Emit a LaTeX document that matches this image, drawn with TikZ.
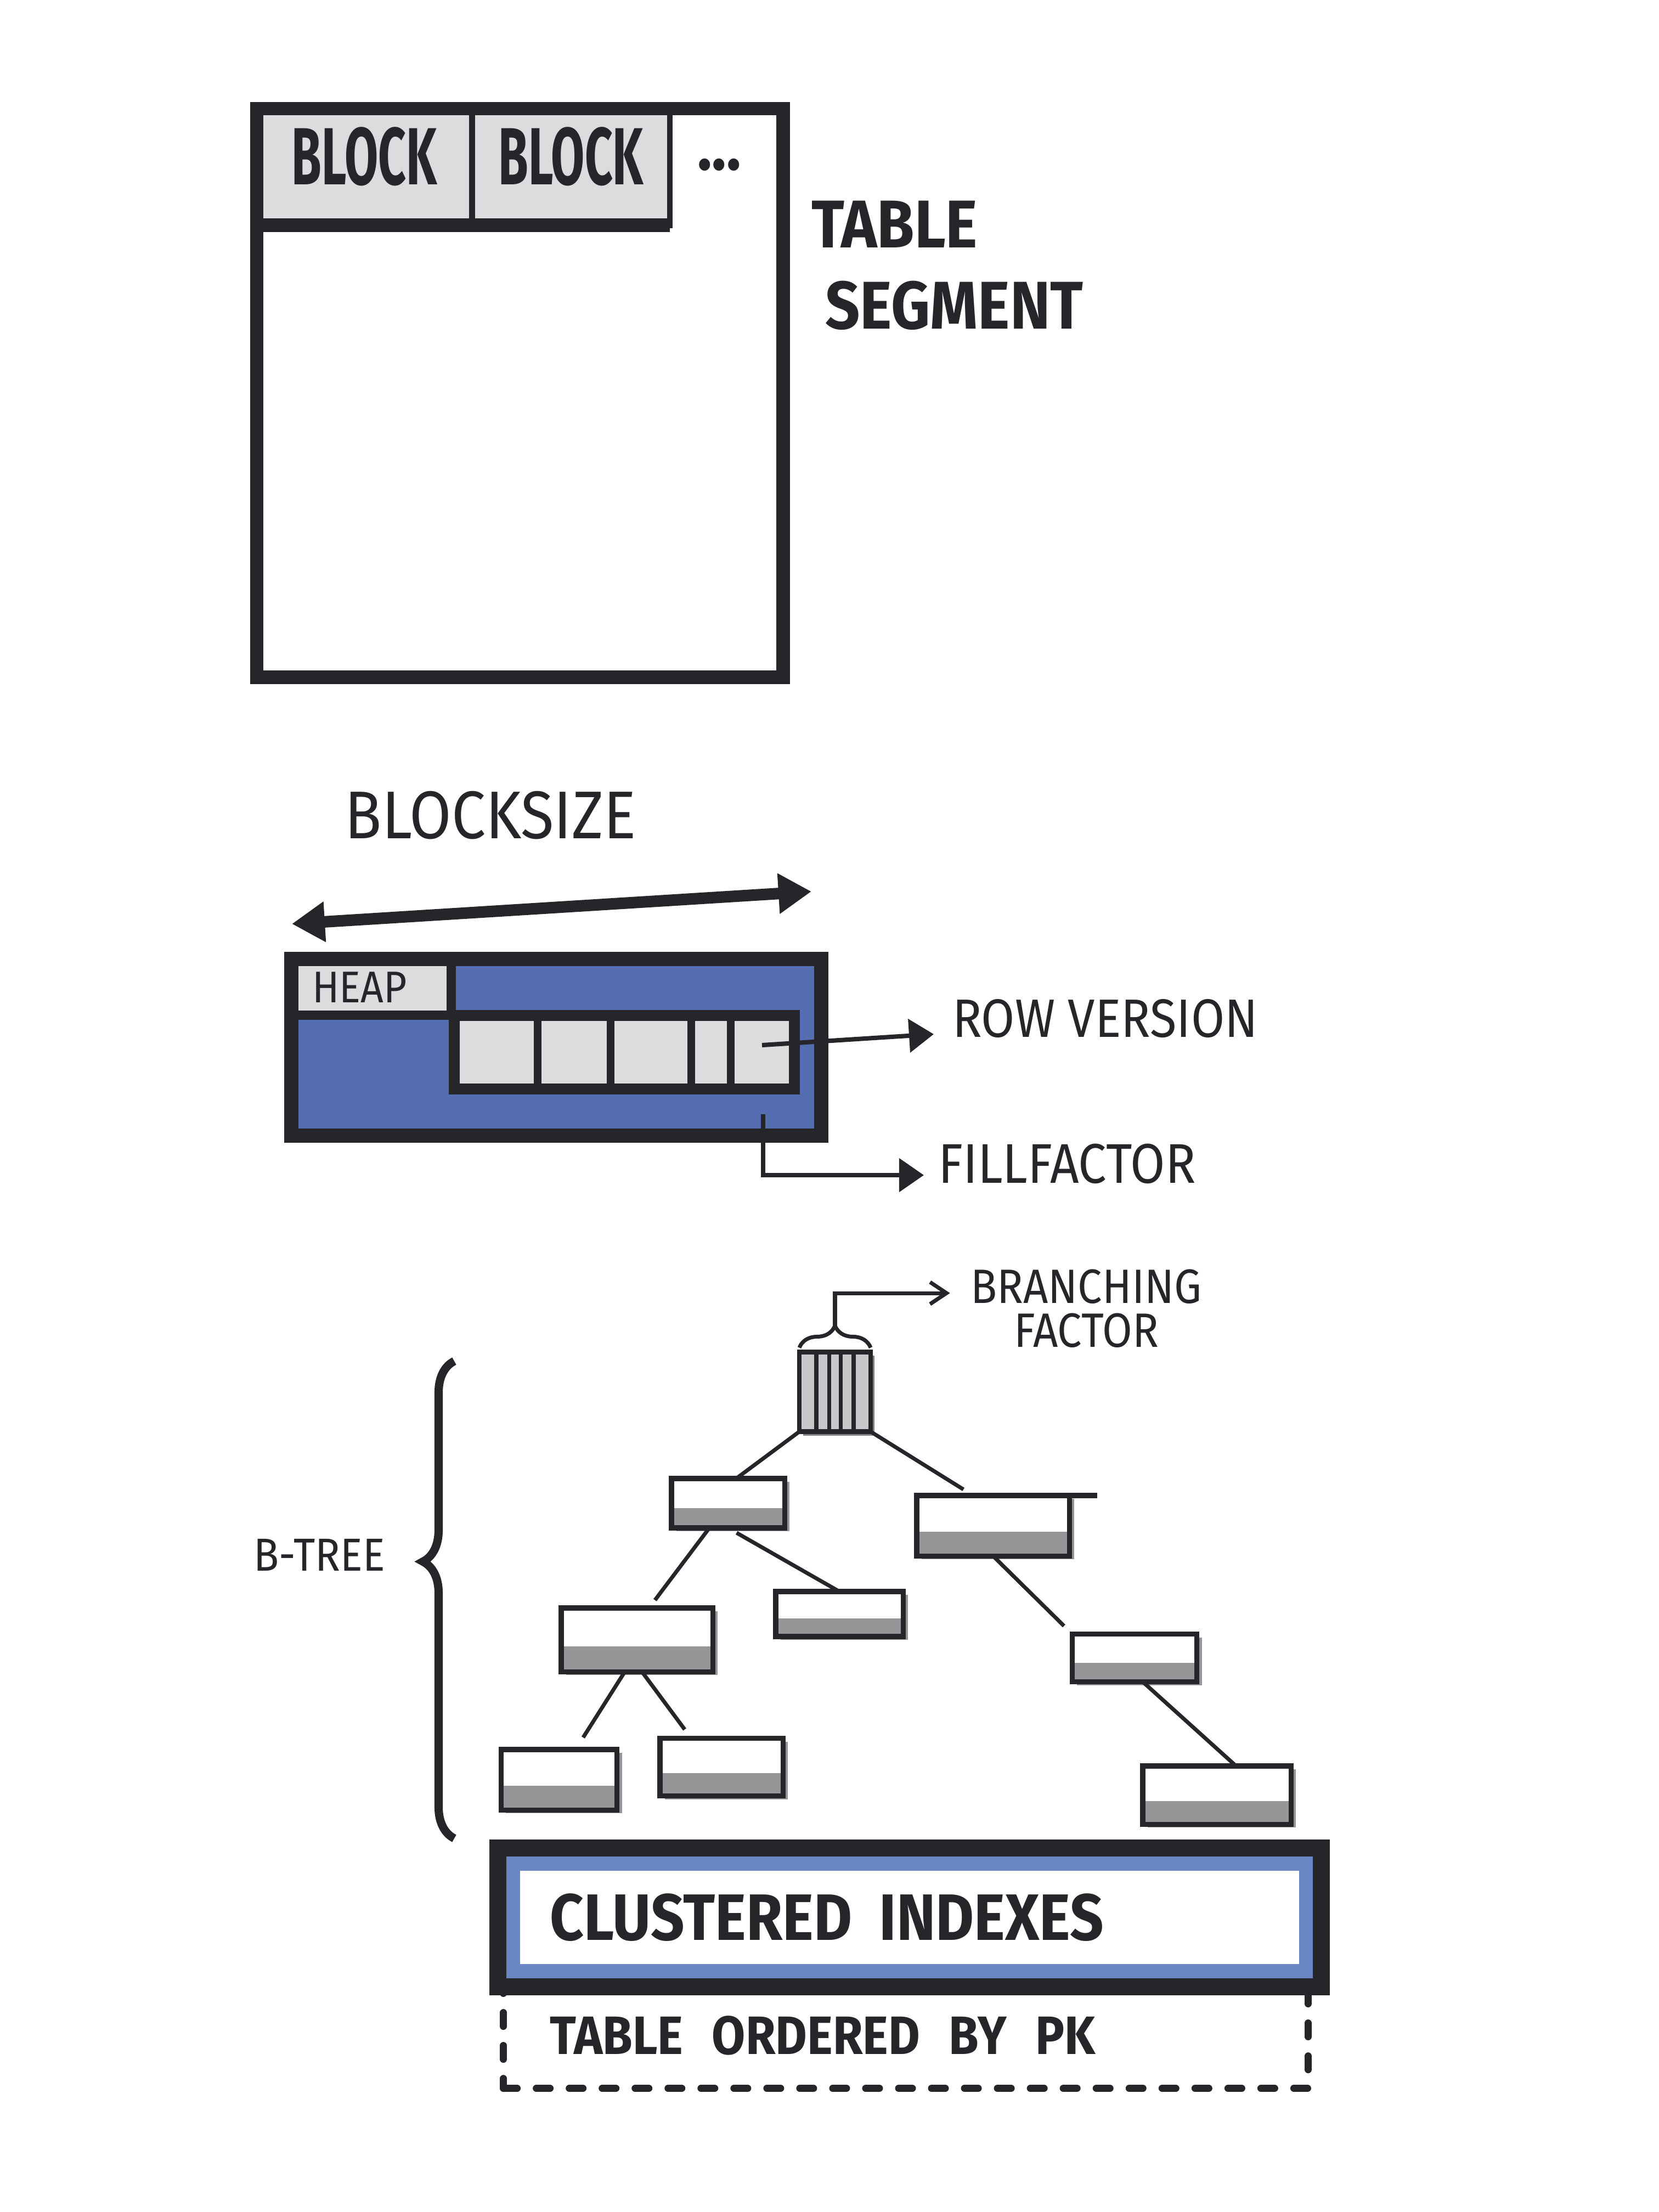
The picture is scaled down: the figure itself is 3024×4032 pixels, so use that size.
\documentclass[tikz,border=0pt]{standalone}
\usepackage{fontspec}
\newfontfamily\handfont[FakeStretch=0.9]{Fira Sans}
\newfontfamily\handnarrow[FakeStretch=0.6]{Fira Sans}
\usetikzlibrary{arrows.meta,positioning,calc,shadows,decorations.pathreplacing}

\definecolor{ink}{RGB}{38,38,42}
\definecolor{blockgray}{RGB}{218,220,222}
\definecolor{heapblue}{RGB}{84,110,177}
\definecolor{bandblue}{RGB}{107,134,196}
\definecolor{nodeshade}{RGB}{150,150,152}
\definecolor{rootgray}{RGB}{200,200,202}
\definecolor{shadowgray}{RGB}{130,130,132}

\begin{document}
\begin{tikzpicture}[x=0.01cm, y=-0.01cm,
    every node/.style={inner sep=0pt, outer sep=0pt, text=ink},
    hand/.style 2 args={font=\handfont\fontsize{#1}{#2}\selectfont},
    handbold/.style 2 args={font=\handfont\bfseries\fontsize{#1}{#2}\selectfont},
    blockbox/.style={draw=ink, line width=3pt, fill=blockgray, minimum width=#1, minimum height=2.13cm,
        text depth=0.4cm, font=\handnarrow\bfseries\fontsize{42}{50}\selectfont},
    bnode/.style 2 args={draw=ink, line width=2.6pt, fill=white, minimum width=#1, minimum height=#2,
        drop shadow={shadow xshift=0.09cm, shadow yshift=-0.06cm, fill=nodeshade, opacity=1},
        path picture={\fill[nodeshade] (path picture bounding box.south west) rectangle
            ($(path picture bounding box.east)!0.2!(path picture bounding box.south east)$);}},
    treelink/.style={ink, line width=2pt},
    thinarrow/.style={ink, line width=2.3pt, -{Triangle[length=0.45cm, width=0.6cm]}}]

    \fill[white] (0,0) rectangle (3024,4032);
    \useasboundingbox (0,0) rectangle (3024,4032);

    % table segment
    \node[blockbox=3.93cm] (blk1) at (664,304) {BLOCK};
    \node[blockbox=3.60cm, right=0pt of blk1] (blk2) {BLOCK};
    \draw[ink, line width=7pt] (blk1.south west) -- (blk2.south east);
    \node[draw=ink, line width=7pt, minimum width=9.59cm, minimum height=10.36cm, anchor=north west] (segment) at (468,198) {};
    \node[handbold={35}{42}] (dots) at (1311,300) {...};
    \node[handbold={35}{42}, align=left, anchor=west] (seglabel) at (1479,484) {TABLE\\\hspace*{0.25cm}SEGMENT};

    % block size
    \node[hand={35}{42}] (bsize) at (894,1486) {BLOCKSIZE};
    \coordinate (bsleft) at (532,1684);
    \coordinate (bsright) at (1479,1625);
    \draw[ink, line width=6pt, {Triangle[length=0.6cm, width=0.7cm]}-{Triangle[length=0.6cm, width=0.7cm]}] (bsleft) -- (bsright);

    % heap block
    \node[draw=ink, line width=7.4pt, fill=heapblue, minimum width=9.65cm, minimum height=3.21cm] (heap) at (1014,1909) {};
    \node[draw=ink, line width=5pt, fill=blockgray, minimum width=2.91cm, minimum height=1.02cm, anchor=north west,
        text width=2.15cm, align=left, inner xsep=0.38cm, hand={23}{28}] (heaptag) at (heap.north west) {HEAP};
    \draw[ink, line width=7.4pt] (heap.north west) rectangle (heap.south east);
    \node[draw=ink, line width=5.7pt, fill=blockgray, minimum width=6.2cm, minimum height=1.34cm] (rows) at (1138,1918) {};
    \foreach \f in {0.245,0.46,0.697,0.813}
        \draw[ink, line width=4pt] ($(rows.north west)!\f!(rows.north east)$) -- ($(rows.south west)!\f!(rows.south east)$);

    \coordinate (rowend) at (1389,1905);
    \node[hand={28}{34}, anchor=west] (rowver) at (1736,1857) {ROW VERSION};
    \draw[thinarrow] (rowend) -- ([xshift=-0.34cm, yshift=-0.28cm]rowver.west);

    \coordinate (ffstart) at (1391,2031);
    \node[hand={29}{35}, anchor=west] (fillf) at (1710,2121) {FILLFACTOR};
    \draw[thinarrow] (ffstart) |- ([xshift=-0.26cm, yshift=-0.21cm]fillf.west);

    % b-tree
    \node[draw=ink, line width=2.5pt, fill=rootgray, minimum width=1.3cm, minimum height=1.45cm,
        drop shadow={shadow xshift=0.07cm, shadow yshift=-0.07cm, fill=shadowgray, opacity=1}] (root) at (1522,2537) {};
    \foreach \f in {0.24,0.42,0.58,0.76}
        \draw[ink, line width=2.2pt] ($(root.north west)!\f!(root.north east)$) -- ($(root.south west)!\f!(root.south east)$);
    \draw[ink, line width=2pt, decorate, decoration={brace, amplitude=0.4cm}]
        ([yshift=0.08cm]root.north west) -- ([yshift=0.08cm]root.north east);
    \coordinate (bftip) at ($(root.north)+(0,-48)$);
    \node[hand={25}{22.8}, align=center] (branch) at (1980,2385) {BRANCHING\\FACTOR};
    \draw[ink, line width=2pt, -{Straight Barb[length=0.3cm, width=0.4cm]}] (bftip) |- ([xshift=-0.38cm, yshift=0.28cm]branch.west);

    \node[bnode={2.06cm}{0.9cm}] (l1a) at (1327,2740) {};
    \node[bnode={2.78cm}{1.1cm}] (l1b) at (1810,2781) {};
    \node[bnode={2.76cm}{1.16cm}] (l2a) at (1161,2989) {};
    \node[bnode={2.32cm}{0.82cm}] (l2b) at (1530,2942) {};
    \node[bnode={2.27cm}{0.87cm}] (l2c) at (2068,3022) {};
    \node[bnode={2.11cm}{1.1cm}] (l3a) at (1019,3244) {};
    \node[bnode={2.24cm}{1.05cm}] (l3b) at (1315,3221) {};
    \node[bnode={2.7cm}{1.06cm}] (l3c) at (2218,3272) {};
    \draw[ink, line width=2.6pt] (l1b.north east) -- ++(51,0);

    \draw[treelink] (root.south west) -- ([xshift=0.15cm]l1a.north);
    \draw[treelink, shorten >=0.21cm] (root.south east) -- ([xshift=-0.36cm]l1b.north);
    \draw[treelink, shorten >=0.18cm] ([xshift=-0.34cm]l1a.south) -- ([xshift=0.22cm]l2a.north);
    \draw[treelink, shorten <=0.18cm] (l1a.south) -- (l2b.north);
    \draw[treelink, shorten >=0.21cm] (l1b.south) -- (l2c.north west);
    \draw[treelink, shorten >=0.26cm] ([xshift=-0.22cm]l2a.south) -- ([xshift=0.3cm]l3a.north);
    \draw[treelink, shorten >=0.2cm] ([xshift=0.09cm]l2a.south) -- ([xshift=-0.55cm]l3b.north);
    \draw[treelink] ([xshift=0.15cm]l2c.south) -- ([xshift=0.35cm]l3c.north);

    \node[hand={24}{28}] (btree) at (582,2834) {B-TREE};
    \coordinate (bracebot) at (828,3351);
    \coordinate (bracetop) at (828,2481);
    \draw[ink, line width=4.3pt, decorate, decoration={brace, amplitude=0.57cm, aspect=0.58}] (bracebot) -- (bracetop);

    % clustered index
    \node[draw=ink, line width=3.7pt, dash pattern=on 0.25cm off 0.35cm, line cap=round,
        minimum width=14.66cm, minimum height=1.93cm, text width=12.96cm, align=left, inner xsep=0.85cm,
        handbold={28}{34}] (ordered) at (1651,3710) {TABLE\hspace{0.2cm} ORDERED\hspace{0.2cm} BY\hspace{0.2cm} PK};
    \node[draw=ink, line width=8.8pt, fill=white, minimum width=15.01cm, minimum height=2.52cm,
        path picture={\draw[bandblue, line width=0.82cm] (path picture bounding box.south west) rectangle (path picture bounding box.north east);},
        text width=13.11cm, align=left, inner xsep=0.95cm, handbold={34}{40}] (clustered) at (1658,3495) {CLUSTERED\hspace{0.5cm}INDEXES};
\end{tikzpicture}
\end{document}
